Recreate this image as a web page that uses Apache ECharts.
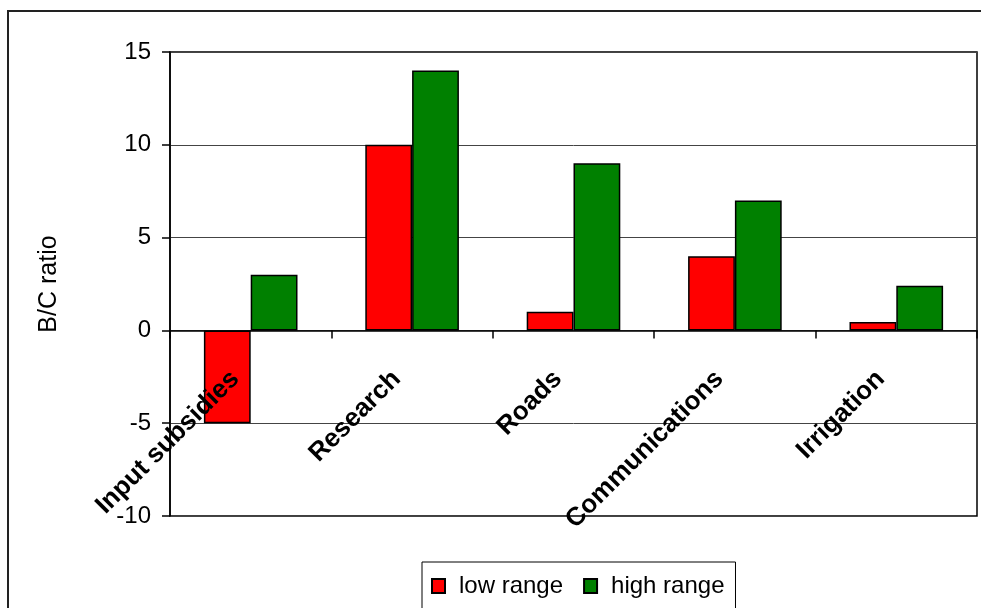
<!DOCTYPE html>
<html>
<head>
<meta charset="utf-8">
<script src="https://cdn.jsdelivr.net/npm/echarts@6/dist/echarts.min.js"></script>
<style>
  html, body { margin: 0; padding: 0; background: #fff; }
  #chart { width: 981px; height: 608px; }
</style>
</head>
<body>
<div id="chart"></div>
<script>
// Benefit/cost ratios by type of public spending
const categories = ['Input subsidies', 'Research', 'Roads', 'Communications', 'Irrigation'];
const lowRange = [-5, 10, 1, 4, 0.45];
const highRange = [3, 14, 9, 7, 2.4];
const yTicks = { min: -10, max: 15, interval: 5 };
const seriesNames = ['low range', 'high range'];

const FONT = '"Liberation Sans", Arial, sans-serif';
const W = 981, H = 608;
const GRID = { left: 170, right: 4, top: 52, bottom: 92 };

// The category axis sits on the zero line; shift it up from the grid bottom
const plotHeight = H - GRID.top - GRID.bottom;
const zeroOffset = -plotHeight * (0 - yTicks.min) / (yTicks.max - yTicks.min);

const chart = echarts.init(document.getElementById('chart'), null, { renderer: 'canvas' });

chart.setOption({
  animation: false,
  backgroundColor: '#fff',
  textStyle: { fontFamily: FONT, color: '#000' },
  graphic: [{
    type: 'rect',
    shape: { x: 8, y: 11, width: 1000, height: 700 },
    style: { fill: 'none', stroke: '#222', lineWidth: 2 },
    silent: true,
    z: -1
  }],
  grid: {
    left: GRID.left, right: GRID.right, top: GRID.top, bottom: GRID.bottom,
    containLabel: false, outerBoundsMode: 'none',
    show: true, borderColor: '#000', borderWidth: 1.5, backgroundColor: 'transparent'
  },
  legend: {
    data: seriesNames,
    left: 422, top: 562,
    orient: 'horizontal',
    padding: [12, 11, 40, 9],
    borderColor: '#000', borderWidth: 1,
    icon: 'rect',
    itemWidth: 13, itemHeight: 14, itemGap: 20,
    textStyle: { fontFamily: FONT, fontSize: 24, color: '#000', padding: [0, 0, 0, 9] }
  },
  xAxis: {
    type: 'category',
    data: categories,
    offset: zeroOffset,
    z: 10,
    axisLine: { onZero: false, lineStyle: { color: '#000', width: 1.5 } },
    axisTick: { show: true, length: 8, lineStyle: { color: '#000', width: 1.5 } },
    splitLine: { show: false },
    axisLabel: {
      interval: 0, rotate: 45, margin: 29,
      fontFamily: FONT, fontSize: 26, fontWeight: 'bold', color: '#000',
      padding: [0, 22, 0, 0]
    }
  },
  yAxis: {
    type: 'value',
    min: yTicks.min, max: yTicks.max, interval: yTicks.interval,
    name: 'B/C ratio',
    nameLocation: 'middle',
    nameGap: 108,
    nameTextStyle: { fontFamily: FONT, fontSize: 25, color: '#000' },
    axisLine: { show: true, lineStyle: { color: '#000', width: 1.5 } },
    axisTick: { show: true, length: 8, lineStyle: { color: '#000', width: 1.5 } },
    splitLine: { show: true, lineStyle: { color: '#444', width: 1 } },
    axisLabel: { margin: 19, fontFamily: FONT, fontSize: 24, color: '#000' }
  },
  series: [
    {
      name: seriesNames[0], type: 'bar', data: lowRange,
      barGap: '0%', barCategoryGap: '42%',
      itemStyle: { color: '#FF0000', borderColor: '#000', borderWidth: 1.5 }
    },
    {
      name: seriesNames[1], type: 'bar', data: highRange,
      barGap: '0%', barCategoryGap: '42%',
      itemStyle: { color: '#008000', borderColor: '#000', borderWidth: 1.5 }
    }
  ]
});
</script>
</body>
</html>
